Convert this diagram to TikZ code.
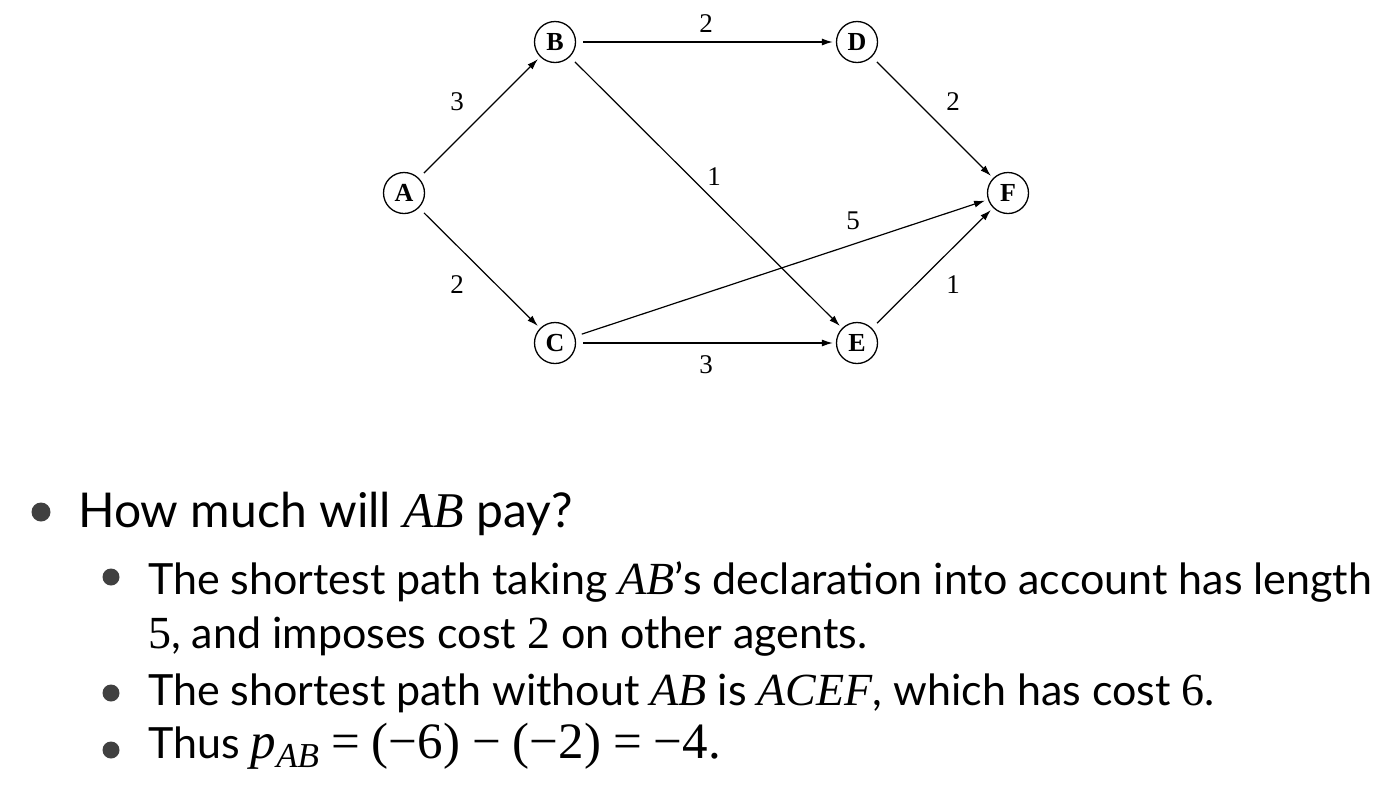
\documentclass[tikz,border=0pt]{standalone}
\usepackage{fontspec}
\setmainfont{Lato}
\newfontfamily\tms{Liberation Serif}
\newcommand{\mi}[1]{{\tms\itshape\fontsize{46}{50}\selectfont #1}}
\newcommand{\mr}[1]{{\tms\fontsize{46}{50}\selectfont #1}}
\newcommand{\mbig}[1]{{\tms\fontsize{51}{52}\selectfont #1}}
\newcommand{\bsp}{\hspace{12pt}}
\usetikzlibrary{arrows.meta}
\tikzset{
  vtx/.style={circle, draw, line width=1.3pt, minimum size=41pt, inner sep=0pt, font=\tms\bfseries\fontsize{26}{26}\selectfont},
  edg/.style={-{Latex[length=11pt,width=7pt]}, line width=1.2pt, shorten <=7pt, shorten >=3pt},
  wlab/.style={font=\tms\fontsize{27}{27}\selectfont, inner sep=0pt},
  txtA/.style={anchor=base west, inner sep=0pt, font=\fontsize{48}{52}\selectfont},
  txtB/.style={anchor=base west, inner sep=0pt, font=\fontsize{43}{48}\selectfont},
  bul/.style={fill=black!75}
}
\begin{document}
\begin{tikzpicture}[x=1pt,y=-1pt]
\useasboundingbox (0,0) rectangle (1391,793);
\fill[white] (0,0) rectangle (1391,793);
\node[vtx] (A) at (404,193) {A};
\node[vtx] (B) at (555,42) {B};
\node[vtx] (C) at (555,343) {C};
\node[vtx] (D) at (857,42) {D};
\node[vtx] (E) at (857,343) {E};
\node[vtx] (F) at (1008,193) {F};
\draw[edg] (A) -- (B);
\draw[edg] (A) -- (C);
\draw[edg] (B) -- (D);
\draw[edg] (B) -- (E);
\draw[edg] (C) -- (E);
\draw[edg] (C) -- (F);
\draw[edg] (D) -- (F);
\draw[edg] (E) -- (F);
\node[wlab] (lAB) at (457,102) {3};
\node[wlab] (lAC) at (457,285) {2};
\node[wlab] (lBD) at (706,24) {2};
\node[wlab] (lBE) at (714,177) {1};
\node[wlab] (lCE) at (706,365) {3};
\node[wlab] (lCF) at (853,221) {5};
\node[wlab] (lDF) at (953,102) {2};
\node[wlab] (lEF) at (953,285) {1};
\fill[bul] (41,512) circle (9.5);
\fill[bul] (111,577) circle (8.5);
\fill[bul] (111,693) circle (8.5);
\fill[bul] (111,750) circle (8.5);
\node[txtA] (t1) at (78,527) {How much will {\fontsize{50}{52}\selectfont\tms\itshape AB} pay?};
\node[txtB] (t2) at (148,594) {The shortest path taking \mi{AB}’s declaration into account has length};
\node[txtB] (t3) at (148,648) {\mr{5}, and imposes cost \mr{2} on other agents.};
\node[txtB] (t4) at (148,705) {The shortest path without \mi{AB} is \mi{ACEF}, which has cost \mr{6}.};
\node[txtB] (t5) at (148,758) {Thus {\tms\itshape\fontsize{51}{52}\selectfont p}\raisebox{-9pt}{\tms\itshape\fontsize{35}{35}\selectfont AB}\mbig{\bsp=\bsp(−6)\bsp−\bsp(−2)\bsp=\bsp−4.}};
\end{tikzpicture}
\end{document}
